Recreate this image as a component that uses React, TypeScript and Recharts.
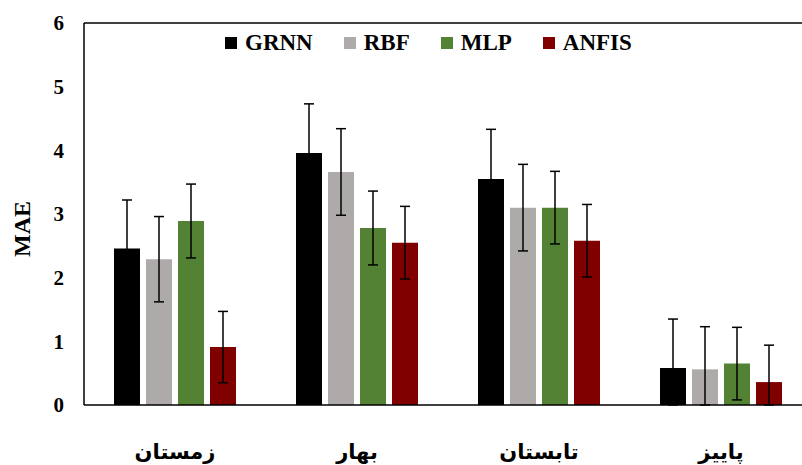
import React from 'react';
import {
  BarChart,
  Bar,
  XAxis,
  YAxis,
  ErrorBar,
  Legend,
  ReferenceLine
} from 'recharts';

const seasons = ['زمستان', 'بهار', 'تابستان', 'پاییز'];
const grnn = [2.46, 3.96, 3.55, 0.58];
const rbf = [2.29, 3.66, 3.1, 0.56];
const mlp = [2.89, 2.78, 3.1, 0.65];
const anfis = [0.91, 2.55, 2.58, 0.36];

// error bar half-lengths; [below, above] where the lower end is cut at the axis
const grnnErr: (number | number[])[] = [0.76, 0.77, 0.78, [0.58, 0.77]];
const rbfErr: (number | number[])[] = [0.67, 0.68, 0.68, [0.56, 0.67]];
const mlpErr = [0.58, 0.58, 0.57, 0.57];
const anfisErr: (number | number[])[] = [0.56, 0.57, 0.57, [0.36, 0.58]];

const seriesOrder = ['GRNN', 'RBF', 'MLP', 'ANFIS'];
const yTicks = [0, 1, 2, 3, 4, 5, 6];

const data = seasons.map((s, i) => ({
  season: s,
  GRNN: grnn[i],
  RBF: rbf[i],
  MLP: mlp[i],
  ANFIS: anfis[i],
  grnnErr: grnnErr[i],
  rbfErr: rbfErr[i],
  mlpErr: mlpErr[i],
  anfisErr: anfisErr[i]
}));

const font = "'Liberation Serif', 'Times New Roman', 'DejaVu Sans', serif";

const LegendRow = (props: any) => {
  const payload = [...(props.payload || [])].sort(
    (a: any, b: any) => seriesOrder.indexOf(a.value) - seriesOrder.indexOf(b.value)
  );
  return (
    <div style={{ display: 'flex', alignItems: 'center', fontFamily: font, fontWeight: 'bold', fontSize: 23 }}>
      {payload.map((p: any) => (
        <div key={p.value} style={{ display: 'flex', alignItems: 'center', marginRight: 31 }}>
          <span style={{ width: 12, height: 12, background: p.color, display: 'inline-block', marginRight: 8 }} />
          <span>{p.value}</span>
        </div>
      ))}
    </div>
  );
};

const MaeLabel = () => (
  <text
    x={22}
    y={229}
    transform="rotate(-90 22 229)"
    textAnchor="middle"
    dominantBaseline="central"
    fontFamily={font}
    fontWeight="bold"
    fontSize={24}
    fill="#000"
  >
    MAE
  </text>
);

export default function App() {
  return (
    <div style={{ position: 'fixed', left: 0, top: 0, width: 802, height: 465, overflow: 'hidden', background: '#fff' }}>
      <BarChart
        width={830}
        height={465}
        data={data}
        margin={{ top: 23, right: 18, left: 0, bottom: 0 }}
        barSize={26}
        barGap={6}
      >
        <XAxis
          dataKey="season"
          height={60}
          tickLine={false}
          axisLine={{ stroke: '#000', strokeWidth: 1.5 }}
          tickMargin={33}
          tick={{ fill: '#000', fontSize: 21, fontWeight: 'bold', fontFamily: font }}
        />
        <YAxis
          width={84}
          domain={[0, 6]}
          allowDataOverflow
          ticks={yTicks}
          tickLine={false}
          axisLine={{ stroke: '#000', strokeWidth: 1.5 }}
          tickMargin={14}
          tick={{ fill: '#000', fontSize: 21, fontWeight: 'bold', fontFamily: font }}
          label={<MaeLabel />}
        />
        <ReferenceLine y={6} stroke="#000" strokeWidth={1.5} />
        <Legend
          verticalAlign="middle"
          align="center"
          content={<LegendRow />}
          wrapperStyle={{ top: 30, left: 225, width: 'auto', height: 'auto' }}
        />
        <Bar dataKey="GRNN" fill="#000000" isAnimationActive={false}>
          <ErrorBar dataKey="grnnErr" width={5} stroke="#000" strokeWidth={1.5} />
        </Bar>
        <Bar dataKey="RBF" fill="#AEAAAA" isAnimationActive={false}>
          <ErrorBar dataKey="rbfErr" width={5} stroke="#000" strokeWidth={1.5} />
        </Bar>
        <Bar dataKey="MLP" fill="#548235" isAnimationActive={false}>
          <ErrorBar dataKey="mlpErr" width={5} stroke="#000" strokeWidth={1.5} />
        </Bar>
        <Bar dataKey="ANFIS" fill="#800000" isAnimationActive={false}>
          <ErrorBar dataKey="anfisErr" width={5} stroke="#000" strokeWidth={1.5} />
        </Bar>
      </BarChart>
    </div>
  );
}
